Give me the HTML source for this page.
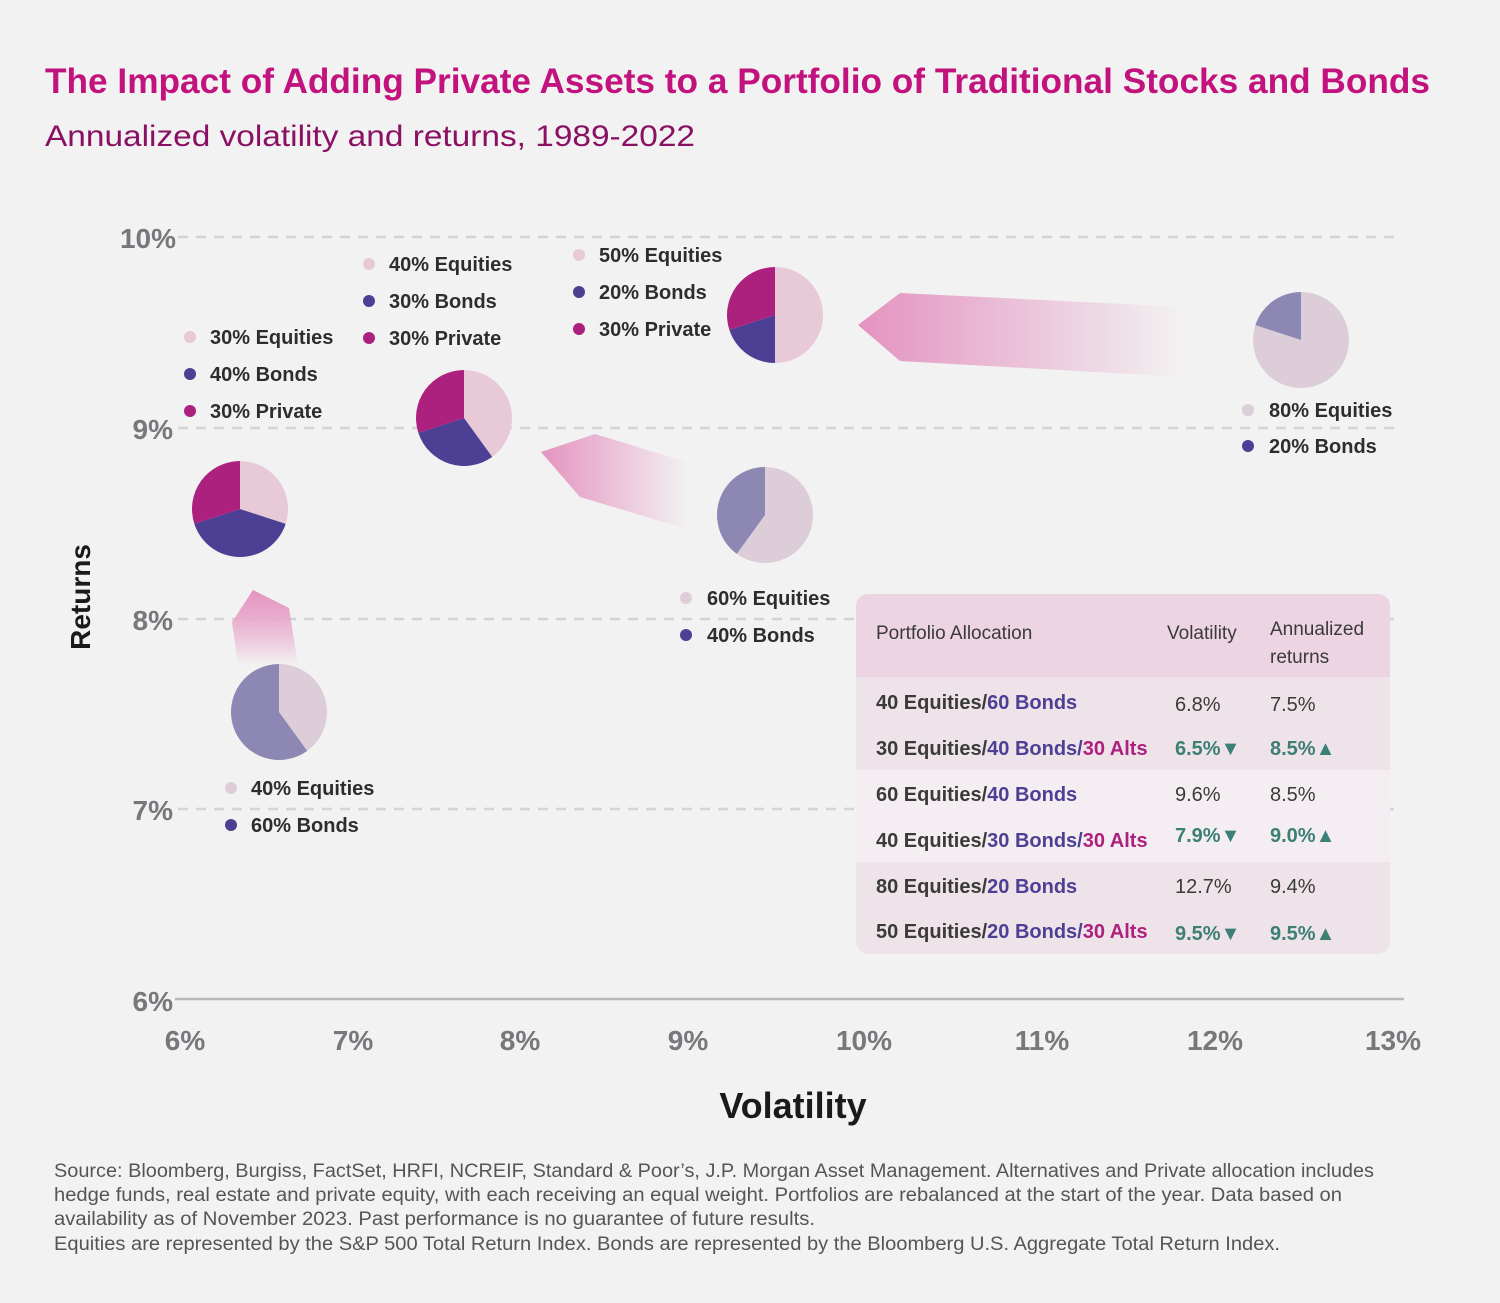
<!DOCTYPE html>
<html><head><meta charset="utf-8"><style>
body{margin:0;background:#f2f2f2;}
svg{display:block;font-family:"Liberation Sans",sans-serif;}
</style></head><body>
<svg width="1500" height="1303" viewBox="0 0 1500 1303" xmlns="http://www.w3.org/2000/svg">
<defs>
<linearGradient id="gh" x1="0" x2="1" y1="0" y2="0"><stop offset="0" stop-color="#e493c0"/><stop offset="1" stop-color="#e493c0" stop-opacity="0"/></linearGradient>
<linearGradient id="gv" x1="0" x2="0" y1="0" y2="1"><stop offset="0" stop-color="#e493c0"/><stop offset="0.3" stop-color="#e8a8cb"/><stop offset="1" stop-color="#e493c0" stop-opacity="0"/></linearGradient>
</defs>
<rect width="1500" height="1303" fill="#f2f2f2"/>
<text x="45" y="93" font-size="35" font-weight="bold" fill="#c2127e" textLength="1385" lengthAdjust="spacingAndGlyphs">The Impact of Adding Private Assets to a Portfolio of Traditional Stocks and Bonds</text>
<text x="45" y="146" font-size="30" fill="#8a1063" textLength="650" lengthAdjust="spacingAndGlyphs">Annualized volatility and returns, 1989-2022</text>
<g stroke="#d4d4d8" stroke-width="2.5" stroke-dasharray="10 8">
<line x1="178" y1="237" x2="1400" y2="237"/><line x1="178" y1="428" x2="1400" y2="428"/>
<line x1="178" y1="619" x2="1400" y2="619"/><line x1="178" y1="809" x2="1400" y2="809"/></g>
<line x1="175" y1="999" x2="1404" y2="999" stroke="#b8b8bc" stroke-width="2.5"/>
<g font-size="28" font-weight="bold" fill="#77777c" text-anchor="end">
<text x="176" y="248">10%</text><text x="173" y="439">9%</text><text x="173" y="630">8%</text><text x="173" y="820">7%</text><text x="173" y="1011">6%</text></g>
<g font-size="28" font-weight="bold" fill="#77777c" text-anchor="middle">
<text x="185" y="1050">6%</text><text x="353" y="1050">7%</text><text x="520" y="1050">8%</text><text x="688" y="1050">9%</text><text x="864" y="1050">10%</text><text x="1042" y="1050">11%</text><text x="1215" y="1050">12%</text><text x="1393" y="1050">13%</text></g>
<text x="793" y="1118" font-size="36" font-weight="bold" fill="#1a1a1a" text-anchor="middle">Volatility</text>
<text transform="translate(90,597) rotate(-90)" font-size="28" font-weight="bold" fill="#1a1a1a" text-anchor="middle">Returns</text>
<polygon points="858,325 900,293 1185,307 1185,377 900,361" fill="url(#gh)"/>
<polygon points="541,452 595,434 690,463 690,530 580,497" fill="url(#gh)"/>
<polygon points="232,622 253,590 289,608 298,665 238,665" fill="url(#gv)"/>
<g transform="translate(240,509)">
<path d="M0 0 L0 -48 A48 48 0 0 1 45.65 14.83 Z" fill="#e8c9d8"/>
<path d="M0 0 L45.65 14.83 A48 48 0 0 1 -45.65 14.83 Z" fill="#4d3f94"/>
<path d="M0 0 L-45.65 14.83 A48 48 0 0 1 0 -48 Z" fill="#ad217e"/></g>
<g transform="translate(464,418)">
<path d="M0 0 L0 -48 A48 48 0 0 1 28.21 38.83 Z" fill="#e8c9d8"/>
<path d="M0 0 L28.21 38.83 A48 48 0 0 1 -45.65 14.83 Z" fill="#4d3f94"/>
<path d="M0 0 L-45.65 14.83 A48 48 0 0 1 0 -48 Z" fill="#ad217e"/></g>
<g transform="translate(775,315)">
<path d="M0 0 L0 -48 A48 48 0 0 1 0 48 Z" fill="#e8c9d8"/>
<path d="M0 0 L0 48 A48 48 0 0 1 -45.65 14.83 Z" fill="#4d3f94"/>
<path d="M0 0 L-45.65 14.83 A48 48 0 0 1 0 -48 Z" fill="#ad217e"/></g>
<g transform="translate(1301,340)">
<path d="M0 0 L0 -48 A48 48 0 1 1 -45.65 -14.83 Z" fill="#dccdd8"/>
<path d="M0 0 L-45.65 -14.83 A48 48 0 0 1 0 -48 Z" fill="#8c88b3"/></g>
<g transform="translate(765,515)">
<path d="M0 0 L0 -48 A48 48 0 1 1 -28.21 38.83 Z" fill="#dccdd8"/>
<path d="M0 0 L-28.21 38.83 A48 48 0 0 1 0 -48 Z" fill="#8c88b3"/></g>
<g transform="translate(279,712)">
<path d="M0 0 L0 -48 A48 48 0 0 1 28.21 38.83 Z" fill="#dccdd8"/>
<path d="M0 0 L28.21 38.83 A48 48 0 1 1 0 -48 Z" fill="#8c88b3"/></g>
<g font-size="20" font-weight="bold" fill="#2d2d2d">
<circle cx="190" cy="337" r="6" fill="#e8c9d8"/><text x="210" y="344">30% Equities</text>
<circle cx="190" cy="374" r="6" fill="#4d3f94"/><text x="210" y="381">40% Bonds</text>
<circle cx="190" cy="411" r="6" fill="#ad217e"/><text x="210" y="418">30% Private</text>
<circle cx="369" cy="264" r="6" fill="#e8c9d8"/><text x="389" y="271">40% Equities</text>
<circle cx="369" cy="301" r="6" fill="#4d3f94"/><text x="389" y="308">30% Bonds</text>
<circle cx="369" cy="338" r="6" fill="#ad217e"/><text x="389" y="345">30% Private</text>
<circle cx="579" cy="255" r="6" fill="#e8c9d8"/><text x="599" y="262">50% Equities</text>
<circle cx="579" cy="292" r="6" fill="#4d3f94"/><text x="599" y="299">20% Bonds</text>
<circle cx="579" cy="329" r="6" fill="#ad217e"/><text x="599" y="336">30% Private</text>
<circle cx="1248" cy="410" r="6" fill="#dccdd8"/><text x="1269" y="417">80% Equities</text>
<circle cx="1248" cy="446" r="6" fill="#4d3f94"/><text x="1269" y="453">20% Bonds</text>
<circle cx="686" cy="598" r="6" fill="#dccdd8"/><text x="707" y="605">60% Equities</text>
<circle cx="686" cy="635" r="6" fill="#4d3f94"/><text x="707" y="642">40% Bonds</text>
<circle cx="231" cy="788" r="6" fill="#dccdd8"/><text x="251" y="795">40% Equities</text>
<circle cx="231" cy="825" r="6" fill="#4d3f94"/><text x="251" y="832">60% Bonds</text>
</g>
<rect x="856" y="594" width="534" height="360" rx="12" fill="#efe3ea"/>
<path d="M868 594 H1378 A12 12 0 0 1 1390 606 V677 H856 V606 A12 12 0 0 1 868 594 Z" fill="#ecd4e2"/>
<rect x="856" y="770" width="534" height="92" fill="#f4eef2"/>
<g font-size="19" fill="#3a3a3a">
<text x="876" y="639">Portfolio Allocation</text><text x="1167" y="639">Volatility</text>
<text x="1270" y="635">Annualized</text><text x="1270" y="663">returns</text></g>
<g font-size="20" font-weight="bold">
<text x="876" y="709" fill="#3a3a3a">40 Equities/<tspan fill="#4d3f94">60 Bonds</tspan></text>
<text x="876" y="755" fill="#3a3a3a">30 Equities/<tspan fill="#4d3f94">40 Bonds/</tspan><tspan fill="#ad217e">30 Alts</tspan></text>
<text x="876" y="801" fill="#3a3a3a">60 Equities/<tspan fill="#4d3f94">40 Bonds</tspan></text>
<text x="876" y="847" fill="#3a3a3a">40 Equities/<tspan fill="#4d3f94">30 Bonds/</tspan><tspan fill="#ad217e">30 Alts</tspan></text>
<text x="876" y="893" fill="#3a3a3a">80 Equities/<tspan fill="#4d3f94">20 Bonds</tspan></text>
<text x="876" y="938" fill="#3a3a3a">50 Equities/<tspan fill="#4d3f94">20 Bonds/</tspan><tspan fill="#ad217e">30 Alts</tspan></text>
</g>
<g font-size="20" fill="#3a3a3a">
<text x="1175" y="711">6.8%</text><text x="1270" y="711">7.5%</text>
<text x="1175" y="801">9.6%</text><text x="1270" y="801">8.5%</text>
<text x="1175" y="893">12.7%</text><text x="1270" y="893">9.4%</text></g>
<g font-size="20" fill="#3c7f74" font-weight="bold">
<text x="1175" y="755">6.5%▼</text><text x="1270" y="755">8.5%▲</text>
<text x="1175" y="842">7.9%▼</text><text x="1270" y="842">9.0%▲</text>
<text x="1175" y="940">9.5%▼</text><text x="1270" y="940">9.5%▲</text></g>
<g font-size="19" fill="#555" lengthAdjust="spacingAndGlyphs">
<text x="54" y="1177" textLength="1320" lengthAdjust="spacingAndGlyphs">Source: Bloomberg, Burgiss, FactSet, HRFI, NCREIF, Standard &amp; Poor’s, J.P. Morgan Asset Management. Alternatives and Private allocation includes</text>
<text x="54" y="1201" textLength="1288" lengthAdjust="spacingAndGlyphs">hedge funds, real estate and private equity, with each receiving an equal weight. Portfolios are rebalanced at the start of the year. Data based on</text>
<text x="54" y="1225" textLength="761" lengthAdjust="spacingAndGlyphs">availability as of November 2023. Past performance is no guarantee of future results.</text>
<text x="54" y="1250" textLength="1226" lengthAdjust="spacingAndGlyphs">Equities are represented by the S&amp;P 500 Total Return Index. Bonds are represented by the Bloomberg U.S. Aggregate Total Return Index.</text>
</g>
</svg>
</body></html>
